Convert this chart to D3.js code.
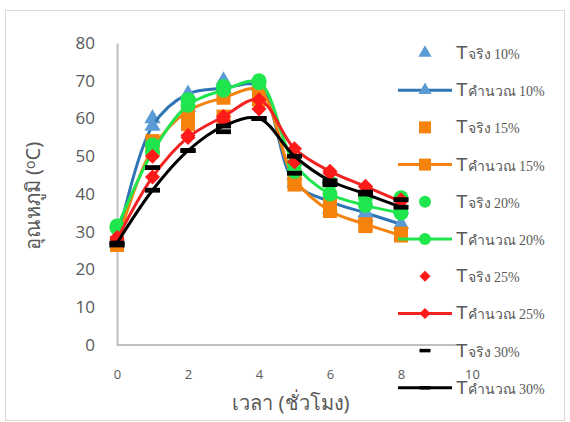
<!DOCTYPE html>
<html><head><meta charset="utf-8">
<script src="https://cdn.jsdelivr.net/npm/d3@7/dist/d3.min.js"></script>
<style>html,body{margin:0;padding:0;background:#fff;}svg{display:block;}</style>
</head><body>
<svg id="c" width="570" height="422"></svg>
<script>
const hours = [0,1,2,3,4,5,6,7,8];
const xTicks = [0,2,4,6,8,10];
const yTicks = [0,10,20,30,40,50,60,70,80];
const seriesNames = ["Tจริง 10%","Tคำนวณ 10%","Tจริง 15%","Tคำนวณ 15%","Tจริง 20%","Tคำนวณ 20%","Tจริง 25%","Tคำนวณ 25%","Tจริง 30%","Tคำนวณ 30%"];
const actual10 = [28, 60, 63, 70, 69, 45, 36, 34, 36];
const calc10   = [27, 58, 66.5, 68, 68.5, 43, 38, 35, 32];
const actual15 = [26.5, 54, 58.5, 60.5, 65, 42.5, 37, 31.5, 29.5];
const calc15   = [27, 52, 62, 65.5, 67.5, 44, 35.5, 32, 29];
const actual20 = [31.5, 53, 65, 68.5, 70, 46, 43, 39, 39];
const calc20   = [31, 51, 63.5, 67.5, 69.5, 48, 40, 37, 35];
const actual25 = [28.5, 50, 55.5, 59.5, 62.5, 48.5, 45.5, 42, 38.5];
const calc25   = [28, 44.5, 55, 60.5, 65, 52, 46, 42, 38];
const actual30 = [26.5, 47, 51.5, 56.5, 60, 45.5, 42.5, 40.5, 38.5];
const calc30   = [27, 41, 51.5, 58, 60, 50, 43.5, 40, 36.5];

const svg = d3.select("#c");
const x = d3.scaleLinear().domain([0,10]).range([117,472]);
const y = d3.scaleLinear().domain([0,80]).range([345,43]);
const grey = "#595959";

svg.append("rect").attr("x",5.5).attr("y",10.5).attr("width",559).attr("height",410)
  .attr("fill","#fff").attr("stroke","#d9d9d9");

// axes
const yAxis = d3.axisLeft(y).tickValues(yTicks).tickSize(0).tickPadding(22);
const gy = svg.append("g").attr("transform","translate(117,0)").call(yAxis);
gy.select(".domain").attr("stroke","#bfbfbf").attr("stroke-width",2);
gy.selectAll("text").attr("font-family","Open Sans, Noto Sans, sans-serif").attr("font-size",17).attr("fill",grey);

const gx = svg.append("g").attr("transform","translate(0,345)")
  .call(d3.axisBottom(x).tickValues(xTicks).tickSize(0).tickPadding(25));
gx.select(".domain").attr("d","M117,0H457").attr("stroke","#bfbfbf").attr("stroke-width",2);
gx.selectAll("text").attr("font-family","Open Sans, Noto Sans, sans-serif").attr("font-size",13).attr("fill",grey);

svg.append("text").attr("x",291).attr("y",410).attr("text-anchor","middle")
  .attr("font-family","Noto Sans, sans-serif").attr("font-size",20).attr("fill",grey)
  .text("เวลา (ชั่วโมง)");
const yt = svg.append("text").attr("transform","translate(40,196) rotate(-90)").attr("text-anchor","middle")
  .attr("font-family","Noto Sans, sans-serif").attr("font-size",20).attr("fill",grey);
yt.append("tspan").text("อุณหภูมิ (");
yt.append("tspan").attr("font-size",14).attr("dy",-5).text("o");
yt.append("tspan").attr("dy",5).text("C)");

const colors = {b:"#2E75B6", bm:"#5B9BD5", o:"#F5820D", g:"#20E64E", r:"#F22222", k:"#000000"};
function marker(g, type, color, s){
  if(type==="tri") g.append("path").attr("d", d3.symbol(d3.symbolTriangle, s*s*0.45)()).attr("fill",color);
  else if(type==="sq") g.append("rect").attr("x",-s/2).attr("y",-s/2).attr("width",s).attr("height",s).attr("fill",color);
  else if(type==="cir") g.append("circle").attr("r",s/2).attr("fill",color);
  else if(type==="dia") g.append("path").attr("d",`M0,${-s/2}L${s/2},0L0,${s/2}L${-s/2},0Z`).attr("fill",color);
  else if(type==="dash") g.append("rect").attr("x",-s/2).attr("y",-s*0.16).attr("width",s).attr("height",s*0.32).attr("fill",color);
}
const series = [
  {name:seriesNames[0], vals:actual10, line:false, mk:"tri", mc:colors.bm, lc:colors.b},
  {name:seriesNames[1], vals:calc10, line:true, mk:"tri", mc:colors.bm, lc:colors.b},
  {name:seriesNames[2], vals:actual15, line:false, mk:"sq", mc:colors.o, lc:colors.o},
  {name:seriesNames[3], vals:calc15, line:true, mk:"sq", mc:colors.o, lc:colors.o},
  {name:seriesNames[4], vals:actual20, line:false, mk:"cir", mc:colors.g, lc:colors.g},
  {name:seriesNames[5], vals:calc20, line:true, mk:"cir", mc:colors.g, lc:colors.g},
  {name:seriesNames[6], vals:actual25, line:false, mk:"dia", mc:"#FF1A1A", lc:colors.r},
  {name:seriesNames[7], vals:calc25, line:true, mk:"dia", mc:"#FF1A1A", lc:colors.r},
  {name:seriesNames[8], vals:actual30, line:false, mk:"dash", mc:colors.k, lc:colors.k},
  {name:seriesNames[9], vals:calc30, line:true, mk:"dash", mc:colors.k, lc:colors.k},
];
const lineGen = d3.line().x((d,i)=>x(hours[i])).y(d=>y(d)).curve(d3.curveCatmullRom.alpha(0.5));
const msize = {tri:16, sq:14, cir:15, dia:15, dash:15};
series.forEach(s=>{
  const g = svg.append("g");
  if(s.line) g.append("path").datum(s.vals).attr("d",lineGen).attr("fill","none")
    .attr("stroke",s.lc).attr("stroke-width",3).attr("stroke-linejoin","round");
  s.vals.forEach((v,i)=>{
    const m = g.append("g").attr("transform",`translate(${x(hours[i])},${y(v)})`);
    marker(m, s.mk, s.mc, msize[s.mk]);
  });
});

// legend
const lsize = {tri:13, sq:12, cir:12, dia:11, dash:11};
series.forEach((s,i)=>{
  const cy = 53 + i*37.2;
  const g = svg.append("g").attr("transform",`translate(0,${cy})`);
  if(s.line) g.append("line").attr("x1",398).attr("x2",452).attr("y1",0).attr("y2",0)
    .attr("stroke",s.lc).attr("stroke-width",3);
  const m = g.append("g").attr("transform","translate(425,0)");
  marker(m, s.mk, s.mc, lsize[s.mk]);
  const t = g.append("text").attr("x",456).attr("y",6).attr("fill",grey);
  t.append("tspan").attr("font-family","Liberation Sans, sans-serif").attr("font-size",19).text(s.name.slice(0,1));
  t.append("tspan").attr("font-family","Liberation Serif, serif").attr("font-size",14).text(s.name.slice(1));
});
</script>
</body></html>
